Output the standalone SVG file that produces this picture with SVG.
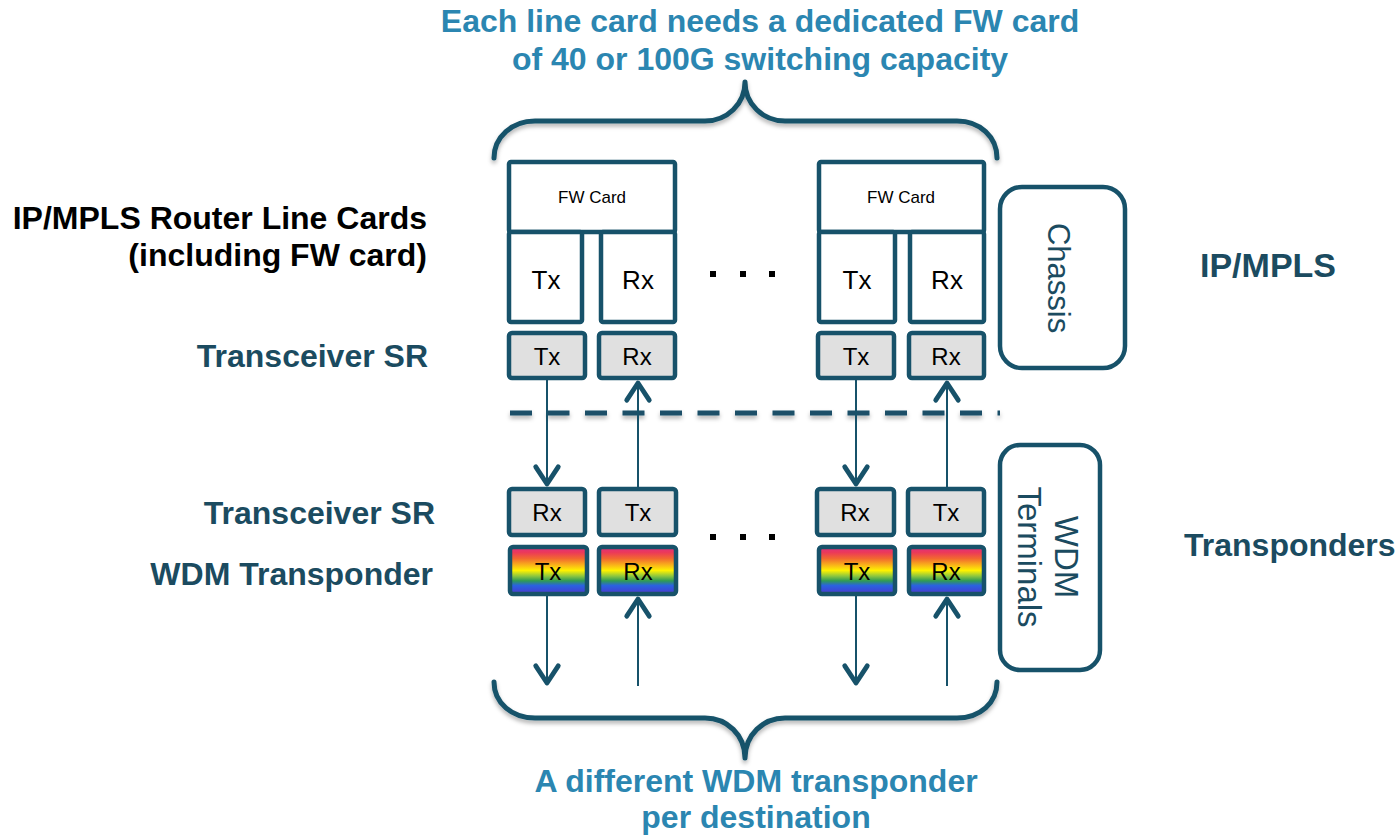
<svg xmlns="http://www.w3.org/2000/svg" width="1398" height="835" viewBox="0 0 1398 835">
<defs>
<style>
.box{fill:#fff;stroke:#17526a;stroke-width:4.5}
.gray{fill:#e0e0e0;stroke:#17526a;stroke-width:4.5}
.rb{fill:url(#rainbow);stroke:#17526a;stroke-width:4.5}
.cont{fill:#fff;stroke:#17526a;stroke-width:4.5}
.t{font-family:"Liberation Sans",Arial,sans-serif;fill:#000;text-anchor:middle}
.lab{font-family:"Liberation Sans",Arial,sans-serif;font-weight:bold;font-size:32px}
.title{font-family:"Liberation Sans",Arial,sans-serif;font-weight:bold;font-size:32px;fill:#2b86b1;text-anchor:middle}
.dark{fill:#1b4b60}
.side{font-family:"Liberation Sans",Arial,sans-serif;font-size:31px;fill:#1b4b60;text-anchor:middle}
.brace{fill:none;stroke:#17526a;stroke-width:5;stroke-linecap:round;stroke-linejoin:round}
.conn{stroke:#17526a;stroke-width:2;fill:none}
.dot{fill:#000}
</style>
<linearGradient id="rainbow" x1="0" y1="0" x2="0" y2="1">
<stop offset="0" stop-color="#dc2f82"/>
<stop offset="0.12" stop-color="#ec3a58"/>
<stop offset="0.25" stop-color="#f26a2e"/>
<stop offset="0.38" stop-color="#f9b21a"/>
<stop offset="0.5" stop-color="#fff200"/>
<stop offset="0.62" stop-color="#8cc63f"/>
<stop offset="0.72" stop-color="#2f9a55"/>
<stop offset="0.82" stop-color="#2a62e0"/>
<stop offset="0.92" stop-color="#3a4ad8"/>
<stop offset="1" stop-color="#6a3cc0"/>
</linearGradient>
<marker id="arr" markerUnits="userSpaceOnUse" markerWidth="30" markerHeight="30" viewBox="-20 -14 24 28" refX="0" refY="0" orient="auto">
<path d="M-16,-10.5 L0,0 L-16,10.5" fill="none" stroke="#17526a" stroke-width="4.5" stroke-linecap="round" stroke-linejoin="round"/>
</marker>
<filter id="sh" x="-5%" y="-20%" width="110%" height="160%">
<feDropShadow dx="0" dy="3" stdDeviation="2" flood-color="#000" flood-opacity="0.3"/>
</filter>
<filter id="shl" filterUnits="userSpaceOnUse" x="490" y="400" width="530" height="30">
<feDropShadow dx="0" dy="3" stdDeviation="2" flood-color="#000" flood-opacity="0.3"/>
</filter>
</defs>
<rect width="1398" height="835" fill="#fff"/>

<g id="title-top">
<text class="title" x="760" y="32">Each line card needs a dedicated FW card</text>
<text class="title" x="760" y="70">of 40 or 100G switching capacity</text>
</g>
<g id="title-bottom">
<text class="title" x="756" y="792">A different WDM transponder</text>
<text class="title" x="756" y="828">per destination</text>
</g>

<g id="left-labels">
<text class="lab" x="427" y="229" text-anchor="end">IP/MPLS Router Line Cards</text>
<text class="lab" x="427" y="266" text-anchor="end">(including FW card)</text>
<text class="lab dark" x="428" y="367" text-anchor="end">Transceiver SR</text>
<text class="lab dark" x="435" y="524" text-anchor="end">Transceiver SR</text>
<text class="lab dark" x="433" y="585" text-anchor="end">WDM Transponder</text>
</g>
<g id="right-labels">
<text class="lab dark" x="1200" y="277" style="font-size:34px">IP/MPLS</text>
<text class="lab dark" x="1184" y="556">Transponders</text>
</g>

<g id="brace-top">
<path class="brace" filter="url(#sh)" d="M494,158 C494,137 512,121 535,121 L705,121 C727,121 745,104 745,82 C745,104 763,121 785,121 L957,121 C980,121 997,137 997,158"/>
</g>
<g id="brace-bottom">
<path class="brace" filter="url(#sh)" d="M494,682 C494,703 512,718 535,718 L705,718 C727,718 745,735 745,758 C745,735 763,718 785,718 L957,718 C980,718 997,703 997,682"/>
</g>

<g id="separator">
<line x1="510" y1="413" x2="1000" y2="413" stroke="#1a5068" stroke-width="5" stroke-dasharray="22 15.5" filter="url(#shl)"/>
</g>

<g id="chassis">
<rect class="cont" x="1000" y="187" width="125" height="181" rx="22"/>
<text class="side" transform="translate(1058,278) rotate(90)" y="10">Chassis</text>
</g>
<g id="wdm-terminals">
<rect class="cont" x="1000" y="445" width="100" height="225" rx="20"/>
<text class="side" transform="translate(1050,557) rotate(90)" y="-5" style="font-size:33px">WDM</text>
<text class="side" transform="translate(1050,557) rotate(90)" y="32" style="font-size:33px">Terminals</text>
</g>

<g id="linecard-1">
<rect class="box" x="509" y="162" width="166" height="70" rx="2"/>
<text class="t" x="592" y="203" font-size="17">FW Card</text>
<rect class="box" x="509" y="232" width="73" height="90" rx="2"/>
<text class="t" x="546" y="289" font-size="26">Tx</text>
<rect class="box" x="601" y="232" width="74" height="90" rx="2"/>
<text class="t" x="638" y="289" font-size="26">Rx</text>
</g>
<g id="linecard-2">
<rect class="box" x="819" y="162" width="165" height="70" rx="2"/>
<text class="t" x="901" y="203" font-size="17">FW Card</text>
<rect class="box" x="819" y="232" width="76" height="90" rx="2"/>
<text class="t" x="857" y="289" font-size="26">Tx</text>
<rect class="box" x="910" y="232" width="74" height="90" rx="2"/>
<text class="t" x="947" y="289" font-size="26">Rx</text>
</g>

<g id="sr-top-1">
<rect class="gray" x="509" y="333" width="76" height="45" rx="3"/>
<text class="t" x="547" y="365" font-size="24">Tx</text>
<rect class="gray" x="599" y="333" width="76" height="45" rx="3"/>
<text class="t" x="637" y="365" font-size="24">Rx</text>
</g>
<g id="sr-top-2">
<rect class="gray" x="818" y="333" width="76" height="45" rx="3"/>
<text class="t" x="856" y="365" font-size="24">Tx</text>
<rect class="gray" x="909" y="333" width="75" height="45" rx="3"/>
<text class="t" x="946" y="365" font-size="24">Rx</text>
</g>

<g id="sr-bottom-1">
<rect class="gray" x="509" y="489" width="76" height="46" rx="3"/>
<text class="t" x="547" y="521" font-size="24">Rx</text>
<rect class="gray" x="599" y="489" width="77" height="46" rx="3"/>
<text class="t" x="638" y="521" font-size="24">Tx</text>
</g>
<g id="sr-bottom-2">
<rect class="gray" x="817" y="489" width="77" height="46" rx="3"/>
<text class="t" x="855" y="521" font-size="24">Rx</text>
<rect class="gray" x="908" y="489" width="76" height="46" rx="3"/>
<text class="t" x="946" y="521" font-size="24">Tx</text>
</g>

<g id="wdm-1">
<rect class="rb" x="510" y="547" width="77" height="47" rx="3"/>
<text class="t" x="548" y="580" font-size="24">Tx</text>
<rect class="rb" x="599" y="547" width="77" height="47" rx="3"/>
<text class="t" x="638" y="580" font-size="24">Rx</text>
</g>
<g id="wdm-2">
<rect class="rb" x="819" y="547" width="76" height="47" rx="3"/>
<text class="t" x="857" y="580" font-size="24">Tx</text>
<rect class="rb" x="909" y="547" width="75" height="47" rx="3"/>
<text class="t" x="946" y="580" font-size="24">Rx</text>
</g>

<g id="ellipsis">
<rect class="dot" x="710" y="271" width="6" height="6"/>
<rect class="dot" x="740" y="271" width="6" height="6"/>
<rect class="dot" x="769" y="271" width="6" height="6"/>
<rect class="dot" x="710" y="534" width="6" height="6"/>
<rect class="dot" x="740" y="534" width="6" height="6"/>
<rect class="dot" x="769" y="534" width="6" height="6"/>
</g>

<g id="connectors">
<line class="conn" x1="547" y1="380" x2="547" y2="484" marker-end="url(#arr)"/>
<line class="conn" x1="638" y1="487" x2="638" y2="383" marker-end="url(#arr)"/>
<line class="conn" x1="856" y1="380" x2="856" y2="484" marker-end="url(#arr)"/>
<line class="conn" x1="947" y1="487" x2="947" y2="383" marker-end="url(#arr)"/>
<line class="conn" x1="547" y1="596" x2="547" y2="683" marker-end="url(#arr)"/>
<line class="conn" x1="638" y1="686" x2="638" y2="599" marker-end="url(#arr)"/>
<line class="conn" x1="856" y1="596" x2="856" y2="683" marker-end="url(#arr)"/>
<line class="conn" x1="947" y1="686" x2="947" y2="599" marker-end="url(#arr)"/>
</g>
</svg>
